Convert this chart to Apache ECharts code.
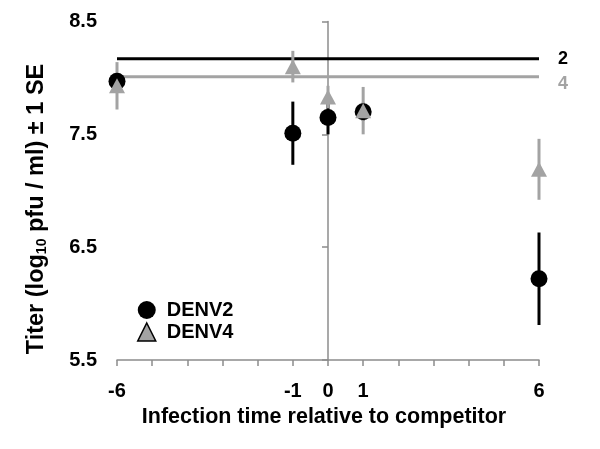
<!DOCTYPE html>
<html>
<head>
<meta charset="utf-8">
<script src="https://cdn.jsdelivr.net/npm/echarts@6/dist/echarts.min.js"></script>
<style>html,body{margin:0;padding:0;background:#fff}#c{width:600px;height:449px}</style>
</head>
<body>
<div id="c"></div>
<script>
// Data
const times = [-6, -1, 0, 1, 6];
const denv2Mean = [7.97, 7.51, 7.65, 7.70, 6.22];
const denv2SE   = [0.05, 0.28, 0.15, 0.08, 0.41];
const denv4Mean = [7.93, 8.10, 7.83, 7.71, 7.19];
const denv4SE   = [0.21, 0.14, 0.10, 0.21, 0.27];
const line2Value = 8.17;
const line4Value = 8.01;
const xTickLabels = [-6, -1, 0, 1, 6];
const yTickLabels = [5.5, 6.5, 7.5, 8.5];
const yTitle = 'Titer (log{sub|10} pfu / ml) ± 1 SE';
const xTitle = 'Infection time relative to competitor';

const BLACK = '#000000';
const GRAY = '#a3a3a3';
const AXIS = '#8c8c8c';
const FONT = '"Liberation Sans", Arial, sans-serif';

function errData(means, ses) {
  return times.map((t, i) => [t, means[i] - ses[i], means[i] + ses[i]]);
}
function errSeries(means, ses, color) {
  return {
    type: 'custom',
    silent: true,
    z: 2,
    renderItem: function (params, api) {
      const lo = api.coord([api.value(0), api.value(1)]);
      const hi = api.coord([api.value(0), api.value(2)]);
      return {
        type: 'line',
        shape: { x1: lo[0], y1: lo[1], x2: hi[0], y2: hi[1] },
        style: { stroke: color, lineWidth: 3 }
      };
    },
    encode: { x: 0, y: [1, 2] },
    data: errData(means, ses)
  };
}

const chart = echarts.init(document.getElementById('c'));
chart.setOption({
  animation: false,
  backgroundColor: '#fff',
  textStyle: { fontFamily: FONT },
  grid: { left: 117, right: 61, top: 21.5, bottom: 89 },
  graphic: [{
    type: 'text',
    x: 37,
    y: 209,
    rotation: Math.PI / 2,
    style: {
      text: yTitle,
      fontFamily: FONT, fontWeight: 'bold', fontSize: 23.5, fill: '#000',
      align: 'center', verticalAlign: 'middle',
      rich: {
        sub: { fontFamily: FONT, fontWeight: 'bold', fontSize: 14, fill: '#000', verticalAlign: 'bottom', padding: [10, 0, 0, 0] }
      }
    }
  }],
  legend: {
    orient: 'vertical',
    left: 132,
    top: 295,
    itemWidth: 18,
    itemHeight: 18,
    itemGap: 2,
    textStyle: { fontFamily: FONT, fontWeight: 'bold', fontSize: 20, lineHeight: 20, color: '#000', padding: [0, 0, 0, 6] },
    data: [
      { name: 'DENV2', icon: 'circle', itemStyle: { color: BLACK } },
      { name: 'DENV4', icon: 'triangle', itemStyle: { color: GRAY, borderColor: '#000', borderWidth: 1.5 } }
    ]
  },
  xAxis: {
    type: 'value',
    min: -6, max: 6, interval: 1,
    name: xTitle,
    nameLocation: 'middle',
    nameGap: 39,
    nameTextStyle: { fontFamily: FONT, fontWeight: 'bold', fontSize: 21.5, color: '#000', padding: [0, 8, 0, 0] },
    axisLine: { onZero: false, lineStyle: { color: AXIS, width: 1.5 } },
    axisTick: { length: 6, lineStyle: { color: AXIS, width: 1.5 } },
    splitLine: { show: false },
    axisLabel: {
      margin: 21,
      fontFamily: FONT, fontWeight: 'bold', fontSize: 20, color: '#000',
      formatter: function (v) { return xTickLabels.indexOf(v) >= 0 ? String(v) : ''; }
    }
  },
  yAxis: [
    {
      type: 'value',
      min: 5.5, max: 8.5, interval: 1,
      axisLine: { show: false },
      axisTick: { show: false },
      splitLine: { show: false },
      axisLabel: {
        margin: 20,
        fontFamily: FONT, fontWeight: 'bold', fontSize: 20, color: '#000',
        formatter: function (v) { return yTickLabels.indexOf(Math.round(v * 10) / 10) >= 0 ? v.toFixed(1) : ''; }
      }
    },
    {
      type: 'value',
      position: 'left',
      offset: -211,
      min: 5.5, max: 8.5, interval: 1,
      axisLine: { show: true, lineStyle: { color: AXIS, width: 1.5 } },
      axisTick: { show: true, length: 6, lineStyle: { color: AXIS, width: 1.5 } },
      axisLabel: { show: false },
      splitLine: { show: false }
    }
  ],
  series: [
    {
      name: 'line2',
      type: 'line',
      silent: true,
      symbol: 'none',
      z: 1,
      lineStyle: { color: BLACK, width: 3 },
      data: [[-6, line2Value], [6, line2Value]],
      endLabel: { show: true, formatter: '2', distance: 19, fontFamily: FONT, fontWeight: 'bold', fontSize: 18, color: BLACK }
    },
    {
      name: 'line4',
      type: 'line',
      silent: true,
      symbol: 'none',
      z: 1,
      lineStyle: { color: GRAY, width: 3 },
      data: [[-6, line4Value], [6, line4Value]],
      endLabel: { show: true, formatter: '4', distance: 19, offset: [0, 7], fontFamily: FONT, fontWeight: 'bold', fontSize: 18, color: GRAY }
    },
    errSeries(denv2Mean, denv2SE, BLACK),
    {
      name: 'DENV2',
      type: 'scatter',
      symbol: 'circle',
      symbolSize: 17,
      z: 3,
      itemStyle: { color: BLACK, opacity: 1 },
      data: times.map((t, i) => [t, denv2Mean[i]])
    },
    errSeries(denv4Mean, denv4SE, GRAY),
    {
      name: 'DENV4',
      type: 'scatter',
      symbol: 'triangle',
      symbolSize: [16, 15],
      z: 5,
      itemStyle: { color: GRAY, opacity: 1 },
      data: times.map((t, i) => [t, denv4Mean[i]])
    }
  ]
});
</script>
</body>
</html>
